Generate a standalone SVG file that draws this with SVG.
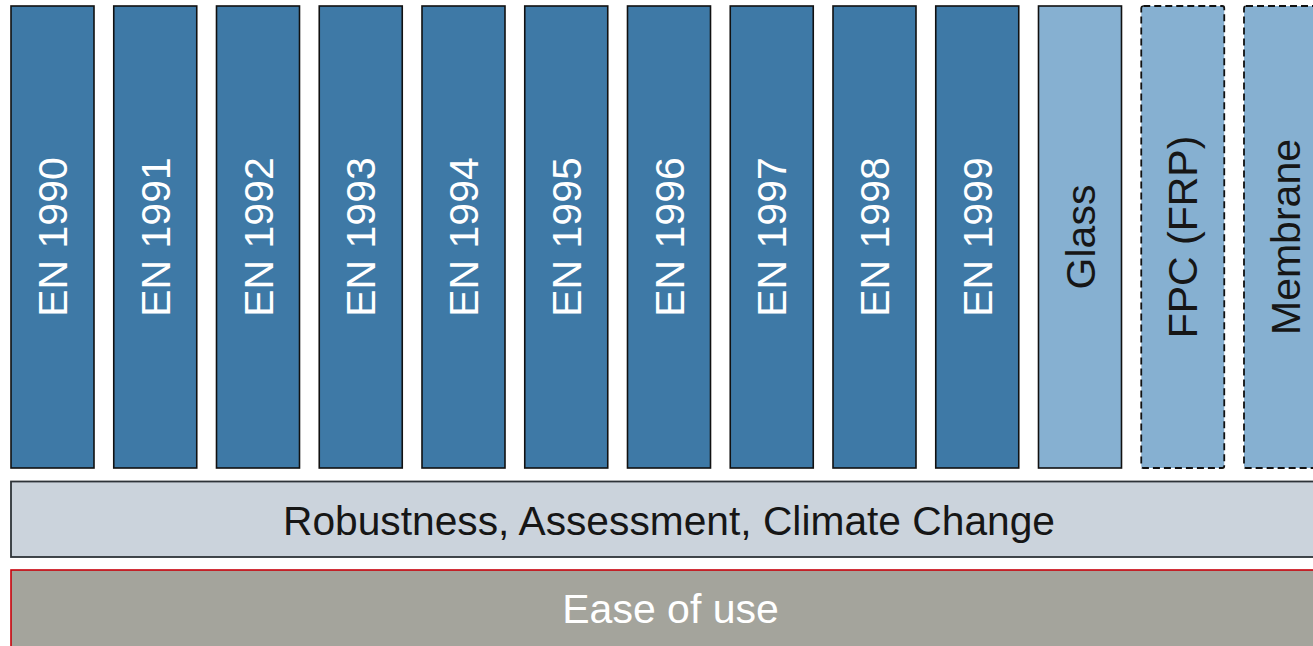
<svg xmlns="http://www.w3.org/2000/svg" width="1313" height="646" viewBox="0 0 1313 646">
<style>
.col{fill:#3e79a6;stroke:#111;stroke-width:1.6}
.lite{fill:#86b0d1;stroke:#111;stroke-width:1.6}
.dash{fill:#86b0d1;stroke:#111;stroke-width:1.8;stroke-dasharray:7 4}
.t{font-family:"Liberation Sans",Arial,sans-serif;font-size:41px;text-anchor:middle}
.w{fill:#fff}
.d{fill:#161616}
</style>
<rect width="1313" height="646" fill="#fff"/>
<g id="en1990"><rect class="col" x="11" y="6" width="83" height="462"/><text class="t w" transform="translate(67,237) rotate(-90)">EN 1990</text></g>
<g id="en1991"><rect class="col" x="113.75" y="6" width="83" height="462"/><text class="t w" transform="translate(169.75,237) rotate(-90)">EN 1991</text></g>
<g id="en1992"><rect class="col" x="216.5" y="6" width="83" height="462"/><text class="t w" transform="translate(272.5,237) rotate(-90)">EN 1992</text></g>
<g id="en1993"><rect class="col" x="319.25" y="6" width="83" height="462"/><text class="t w" transform="translate(375.25,237) rotate(-90)">EN 1993</text></g>
<g id="en1994"><rect class="col" x="422" y="6" width="83" height="462"/><text class="t w" transform="translate(478,237) rotate(-90)">EN 1994</text></g>
<g id="en1995"><rect class="col" x="524.75" y="6" width="83" height="462"/><text class="t w" transform="translate(580.75,237) rotate(-90)">EN 1995</text></g>
<g id="en1996"><rect class="col" x="627.5" y="6" width="83" height="462"/><text class="t w" transform="translate(683.5,237) rotate(-90)">EN 1996</text></g>
<g id="en1997"><rect class="col" x="730.25" y="6" width="83" height="462"/><text class="t w" transform="translate(786.25,237) rotate(-90)">EN 1997</text></g>
<g id="en1998"><rect class="col" x="833" y="6" width="83" height="462"/><text class="t w" transform="translate(889,237) rotate(-90)">EN 1998</text></g>
<g id="en1999"><rect class="col" x="935.75" y="6" width="83" height="462"/><text class="t w" transform="translate(991.75,237) rotate(-90)">EN 1999</text></g>
<g id="glass"><rect class="lite" x="1038.5" y="6" width="83" height="462"/><text class="t d" transform="translate(1094.5,237) rotate(-90)">Glass</text></g>
<g id="fpc"><rect class="dash" x="1141.25" y="6" width="83" height="462" rx="2"/><text class="t d" transform="translate(1197.25,237) rotate(-90)">FPC (FRP)</text></g>
<g id="membrane"><rect class="dash" x="1244" y="6" width="83" height="462" rx="2"/><text class="t d" transform="translate(1300,237) rotate(-90)">Membrane</text></g>
<g id="robustness"><rect x="11" y="481.5" width="1320" height="75.5" fill="#cbd3dc" stroke="#2e3338" stroke-width="1.8"/><text class="t d" x="669" y="535" textLength="772" lengthAdjust="spacingAndGlyphs">Robustness, Assessment, Climate Change</text></g>
<g id="ease"><rect x="11" y="570" width="1320" height="90" fill="#a4a49c" stroke="#c8000a" stroke-width="1.6"/><text class="t w" x="670.5" y="623">Ease of use</text></g>
<g id="connectors"></g>
</svg>
